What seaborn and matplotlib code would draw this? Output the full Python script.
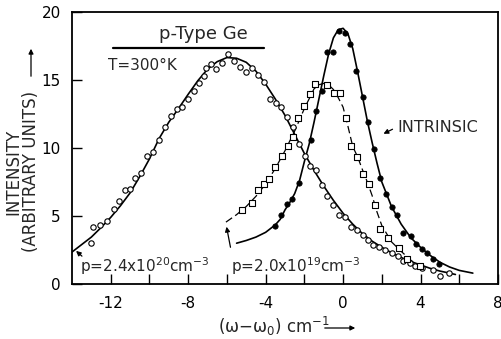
import matplotlib
matplotlib.use("Agg")
import matplotlib.pyplot as plt
import seaborn as sns
from matplotlib.lines import Line2D

# ---------------- data ----------------
# p = 2.4e20 cm^-3 : open circles + solid fit
p24_x = [-13.04, -12.93, -12.56, -12.18, -11.84, -11.56, -11.28, -11.01, -10.74, -10.43,
         -10.13, -9.81, -9.50, -9.22, -8.91, -8.60, -8.33, -8.00, -7.71, -7.44,
         -7.20, -7.06, -6.82, -6.54, -6.27, -5.96, -5.65, -5.30, -5.03, -4.69,
         -4.40, -4.10, -3.79, -3.48, -3.19, -2.90, -2.59, -2.28, -1.99, -1.70,
         -1.38, -1.11, -0.84, -0.53, -0.19, 0.12, 0.42, 0.72, 1.02, 1.29,
         1.57, 1.88, 2.17, 2.50, 2.82, 3.11, 3.45, 3.72, 4.08, 4.66, 5.00, 5.48]
p24_y = [3.04, 4.21, 4.34, 4.65, 5.49, 6.13, 6.91, 6.99, 7.77, 8.18,
         9.41, 9.71, 10.59, 11.57, 12.35, 12.84, 12.99, 13.60, 14.20, 14.76,
         15.30, 15.86, 16.20, 15.80, 16.27, 16.90, 16.40, 15.93, 15.60, 15.86,
         15.37, 14.83, 13.60, 13.28, 13.04, 12.30, 11.52, 10.29, 9.41, 8.68,
         8.35, 7.28, 6.47, 5.83, 5.07, 4.95, 4.22, 3.97, 3.60, 3.24,
         2.87, 2.70, 2.50, 2.25, 2.08, 1.66, 1.52, 1.32, 1.15, 1.00, 0.60, 0.83]
fit24_x = [-14, -13.5, -13, -12.5, -12, -11.5, -11, -10.5, -10, -9.5, -9, -8.5, -8, -7.5,
           -7, -6.5, -6, -5.5, -5, -4.5, -4, -3.5, -3, -2.5, -2, -1.5, -1, -0.5, 0,
           0.5, 1, 1.5, 2, 2.5, 3, 3.5, 4, 4.5, 5, 5.5, 5.8]
fit24_y = [2.35, 2.9, 3.45, 4.15, 4.9, 5.75, 6.7, 7.9, 9.2, 10.7, 11.9, 12.9, 13.95, 14.95,
           15.8, 16.35, 16.65, 16.6, 16.3, 15.65, 14.7, 13.6, 12.4, 11.0, 9.6, 8.35, 7.2, 6.15, 5.2,
           4.4, 3.7, 3.15, 2.7, 2.3, 1.95, 1.65, 1.4, 1.15, 0.95, 0.8, 0.7]

# p = 2.0e19 cm^-3 : open squares + dashed fit
p20_x = [-5.21, -4.69, -4.38, -4.10, -3.83, -3.50, -3.18, -2.83, -2.58, -2.35,
         -2.02, -1.71, -1.46, -0.81, -0.45, -0.14, 0.16, 0.40, 0.72, 1.04,
         1.32, 1.67, 1.93, 2.30, 2.90, 3.32, 3.95]
p20_y = [5.42, 5.98, 6.91, 7.33, 7.70, 8.60, 9.42, 10.15, 10.80, 12.20,
         13.12, 13.95, 14.73, 14.62, 14.05, 14.02, 12.24, 10.15, 9.37, 8.10,
         7.38, 5.81, 4.03, 3.36, 2.65, 1.82, 1.29]
fit20_x = [-6.05, -5.5, -5, -4.5, -4, -3.5, -3, -2.5, -2, -1.5, -1.25, -1, -0.75, -0.5,
           -0.25, 0, 0.25, 0.5, 0.75, 1, 1.25, 1.5, 1.75, 2, 2.5, 3, 3.5, 4]
fit20_y = [4.55, 5.1, 5.7, 6.45, 7.35, 8.5, 9.8, 11.25, 12.9, 14.35, 14.65, 14.75, 14.65, 14.3,
           13.7, 13.0, 11.6, 10.1, 9.35, 8.4, 7.5, 6.5, 5.3, 4.3, 3.1, 2.4, 1.75, 1.2]

# intrinsic : filled circles + solid fit
int_x = [-3.52, -3.22, -2.92, -2.65, -2.30, -1.68, -1.38, -1.10, -0.82, -0.51,
         -0.22, 0.12, 0.38, 0.68, 1.02, 1.31, 1.60, 1.91, 2.22, 2.51,
         2.80, 3.11, 3.50, 3.77, 4.05, 4.33, 4.62, 4.93]
int_y = [4.30, 5.10, 5.85, 6.25, 7.40, 10.60, 12.70, 14.20, 17.03, 17.03,
         18.60, 18.43, 17.63, 15.68, 13.75, 11.94, 9.90, 7.77, 6.60, 5.68,
         5.05, 3.75, 3.53, 2.94, 2.56, 2.25, 1.82, 1.45]
fitI_x = [-5.5, -5, -4.5, -4, -3.5, -3.25, -3, -2.75, -2.5, -2.25, -2, -1.75, -1.5, -1.25,
          -1, -0.75, -0.5, -0.25, 0, 0.25, 0.5, 0.75, 1, 1.25, 1.5, 1.75, 2, 2.5, 3,
          3.5, 4, 4.5, 5, 5.5, 6, 6.7]
fitI_y = [3.0, 3.2, 3.45, 3.8, 4.35, 4.75, 5.45, 6.0, 6.65, 7.6, 9.0, 10.3, 11.9, 13.6,
          15.3, 16.9, 18.1, 18.7, 18.8, 18.4, 17.3, 15.6, 13.8, 12.0, 10.4, 8.9, 7.5, 5.7, 4.4,
          3.4, 2.7, 2.1, 1.6, 1.25, 1.0, 0.8]

x_major = [-12, -8, -4, 0, 4, 8]
x_minor = [-10, -6, -2, 2, 6]
y_ticks = [0, 5, 10, 15, 20]

# ---------------- figure ----------------
sns.set_theme(style="ticks")
plt.rcParams['font.family'] = ['DejaVu Sans']
W, H = 501, 339
fig = plt.figure(figsize=(W / 100, H / 100), dpi=100)
ax = fig.add_axes([72 / W, 1 - 284 / H, 426 / W, 272 / H])

lk = dict(ax=ax, color='black', sort=False, estimator=None, legend=False)
sns.lineplot(x=fit24_x, y=fit24_y, lw=1.2, **lk)
sns.lineplot(x=fitI_x, y=fitI_y, lw=1.2, **lk)
sns.lineplot(x=fit20_x, y=fit20_y, lw=0.9, linestyle=(0, (6, 3)), **lk)

sns.scatterplot(x=p24_x, y=p24_y, ax=ax, marker='o', s=15, color='white',
                edgecolor='black', linewidth=0.8, zorder=3, legend=False)
sns.scatterplot(x=p20_x, y=p20_y, ax=ax, marker='s', s=21, color='white',
                edgecolor='black', linewidth=0.8, zorder=3, legend=False)
sns.scatterplot(x=int_x, y=int_y, ax=ax, marker='o', s=15, color='black',
                edgecolor='black', linewidth=0.5, zorder=3, legend=False)

ax.set_xlim(-14, 8)
ax.set_ylim(0, 20)
ax.set_xticks(x_major)
ax.set_xticklabels([str(v) for v in x_major])
ax.set_xticks(x_minor, minor=True)
ax.set_yticks(y_ticks)
ax.set_yticklabels([str(v) for v in y_ticks])
ax.tick_params(axis='both', which='both', direction='in', length=7.5, width=1.0,
               labelsize=11, colors='black')
ax.tick_params(axis='x', which='both', pad=9)
ax.tick_params(axis='y', pad=8)
for sp in ax.spines.values():
    sp.set_visible(True)
    sp.set_linewidth(1.3)
    sp.set_color('black')
ax.set_xlabel('')
ax.set_ylabel('')


def fp(x, y):
    return (x / W, 1 - y / H)


# titles / labels
fig.text(*fp(203, 34), 'p-Type Ge', fontsize=13, ha='center', va='center')
fig.add_artist(Line2D([113 / W, 264 / W], [1 - 48 / H, 1 - 48 / H],
                      color='black', lw=1.6, transform=fig.transFigure))
fig.text(*fp(108, 65), 'T=300°K', fontsize=11, ha='left', va='center')
fig.text(*fp(397, 128), 'INTRINSIC', fontsize=11.5, ha='left', va='center')
fig.text(*fp(80, 266), r'p=2.4x10$^{20}$cm$^{-3}$', fontsize=11, ha='left', va='center')
fig.text(*fp(231, 266), r'p=2.0x10$^{19}$cm$^{-3}$', fontsize=11, ha='left', va='center')

arr = dict(arrowstyle='-|>', color='black', lw=0.9, mutation_scale=7)
ax.annotate('', xy=(381, H - 135), xytext=(395, H - 128),
            xycoords='figure pixels', textcoords='figure pixels', arrowprops=arr)
ax.annotate('', xy=(74, H - 249), xytext=(84, H - 258),
            xycoords='figure pixels', textcoords='figure pixels', arrowprops=arr)
ax.annotate('', xy=(226, H - 224), xytext=(231, H - 250),
            xycoords='figure pixels', textcoords='figure pixels', arrowprops=arr)

# axis titles
fig.text(*fp(13, 172), 'INTENSITY', fontsize=12, rotation=90, ha='center', va='center')
fig.text(*fp(31, 171), '(ARBITRARY UNITS)', fontsize=12, rotation=90, ha='center', va='center')
ax.annotate('', xy=(31, H - 46), xytext=(31, H - 79),
            xycoords='figure pixels', textcoords='figure pixels', arrowprops=arr)
fig.text(*fp(218, 326), r'(ω−ω$_0$) cm$^{-1}$', fontsize=12, ha='left', va='center')
ax.annotate('', xy=(358, H - 328), xytext=(322, H - 328),
            xycoords='figure pixels', textcoords='figure pixels', arrowprops=arr)

fig.savefig('out.png', dpi=100)
